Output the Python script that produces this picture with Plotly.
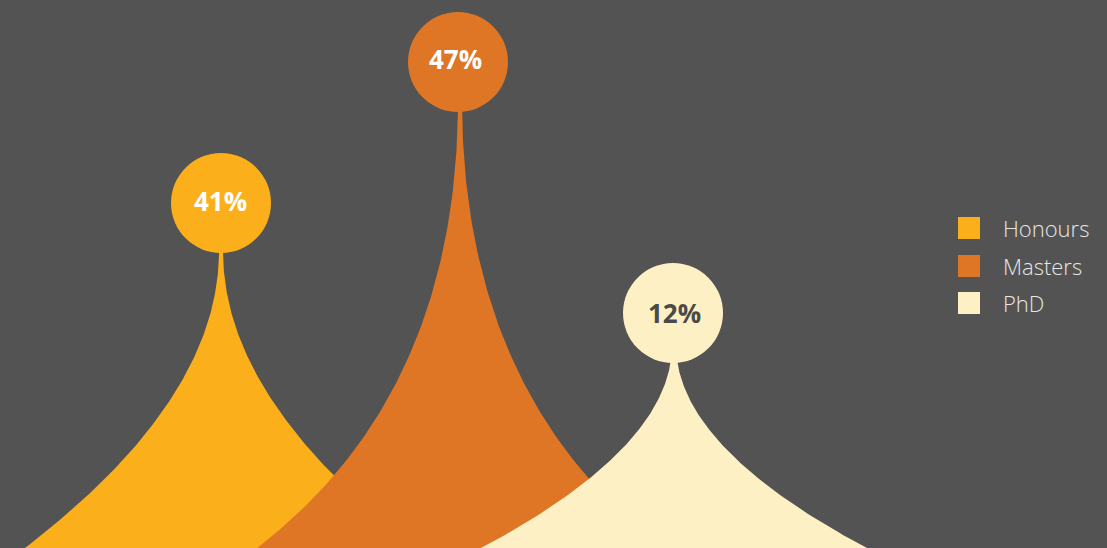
import numpy as np
import plotly.graph_objects as go

# ---------------- data ----------------
categories = ["Honours", "Masters", "PhD"]
values = [41, 47, 12]
value_labels = [f"{v}%" for v in values]

# ---------------- styles ----------------
colors = ["#FBB01B", "#DF7625", "#FEF0C5"]
label_colors = ["#FFFFFF", "#FFFFFF", "#4A4A4A"]
bg = "#535353"
legend_text_color = "#E6E6E6"

# ---------------- geometry (pixel-like coordinate space) ----------------
W_PX, H_PX = 1107, 548
peak_x = [221, 460, 674]          # spike centre
apex_y = [251, 100, 345]          # spike tip (hidden under bubble)
base_y = [600, 720, 600]          # where the curve ends (below chart edge)
base_half = [268, 897, 301]       # half width at base_y
curve_k = [0.5, 1.0, 0.5]         # bezier control height fraction
neck = 2.0
bubble_c = [(221, 203), (458, 62), (673, 313)]
bubble_r = 50
label_pos = [(220, 201), (455, 59), (674, 313)]

fig = go.Figure()


def spike(i):
    t = np.linspace(0, 1, 200)
    x0, ya, yb, w, k = peak_x[i], apex_y[i], base_y[i], base_half[i], curve_k[i]
    p0 = np.array([0.0, ya])
    p1 = np.array([0.0, ya + k * (yb - ya)])
    p2 = np.array([w, yb])
    pts = ((1 - t) ** 2)[:, None] * p0 + (2 * t * (1 - t))[:, None] * p1 + (t ** 2)[:, None] * p2
    hw = pts[:, 0] + neck
    yy = pts[:, 1]
    xs = np.concatenate([x0 - hw[::-1], x0 + hw])
    ys = np.concatenate([yy[::-1], yy])
    return xs, ys


for i, cat in enumerate(categories):
    xs, ys = spike(i)
    fig.add_trace(go.Scatter(
        x=xs, y=ys, mode="lines", fill="toself",
        fillcolor=colors[i], line=dict(width=0, color=colors[i]),
        name=cat, showlegend=False, hoverinfo="skip"))

# bubbles + labels
for i, cat in enumerate(categories):
    cx, cy = bubble_c[i]
    fig.add_shape(type="circle", xref="x", yref="y",
                  x0=cx - bubble_r, x1=cx + bubble_r,
                  y0=cy - bubble_r, y1=cy + bubble_r,
                  fillcolor=colors[i], line=dict(width=0), layer="above")
    lx, ly = label_pos[i]
    fig.add_annotation(x=lx, y=ly, xref="x", yref="y", text=value_labels[i],
                       showarrow=False, xanchor="center", yanchor="middle",
                       font=dict(family="Open Sans", size=26, color=label_colors[i], weight="bold"))

# legend (drawn manually so the swatches can match size)
leg_x0 = 958
leg_y = [228, 266, 303]
sw = 22
for i, cat in enumerate(categories):
    fig.add_shape(type="rect", xref="x", yref="y",
                  x0=leg_x0, x1=leg_x0 + sw,
                  y0=leg_y[i] - sw / 2, y1=leg_y[i] + sw / 2,
                  fillcolor=colors[i], line=dict(width=0), layer="above")
    fig.add_annotation(x=1001, y=leg_y[i], xref="x", yref="y", text=cat,
                       showarrow=False, xanchor="left", yanchor="middle",
                       font=dict(family="Open Sans", size=22, color=legend_text_color, weight=300))

fig.update_layout(
    width=W_PX, height=H_PX,
    margin=dict(l=0, r=0, t=0, b=0),
    paper_bgcolor=bg, plot_bgcolor=bg,
    xaxis=dict(range=[0, W_PX], visible=False, fixedrange=True),
    yaxis=dict(range=[H_PX, 0], visible=False, fixedrange=True),
    showlegend=False,
)

fig.write_html(
    "out.html",
    config={"displayModeBar": False},
    post_script="document.body.style.margin='0';document.body.style.overflow='hidden';"
                "document.body.style.background='" + bg + "';",
)
